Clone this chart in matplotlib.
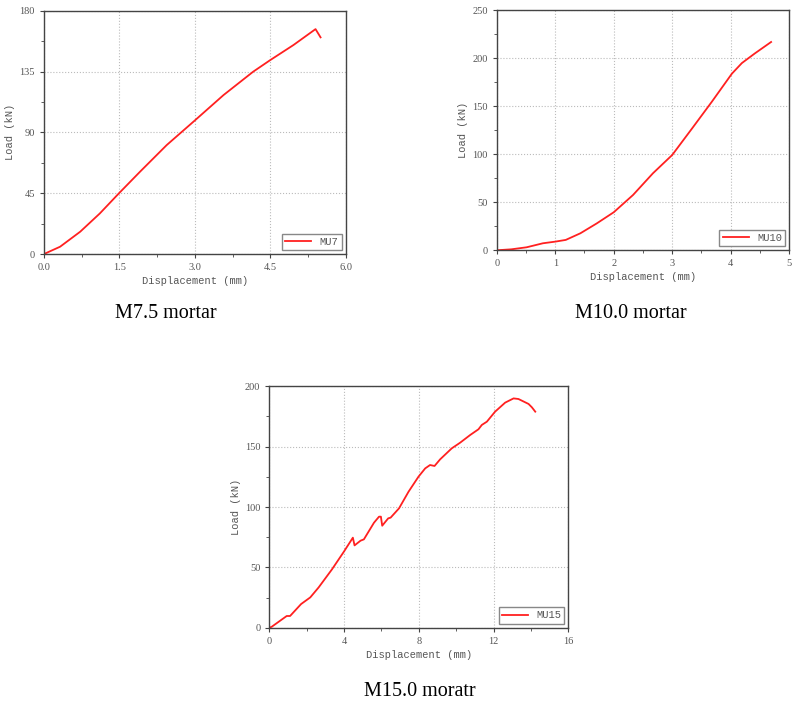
import numpy as np
import matplotlib
matplotlib.use('Agg')
from matplotlib import pyplot as plt
from matplotlib import ticker

# MU7 (M7.5 mortar)
mu7_disp = [0.0, 0.32, 0.72, 1.11, 1.49, 1.91, 2.44, 2.99, 3.57, 4.16, 4.5, 4.96, 5.4, 5.5]
mu7_load = [0.0, 5.4, 16.5, 30.0, 44.9, 60.9, 80.6, 98.5, 117.6, 134.9, 143.5, 154.6,
            166.4, 160.3]

# MU10 (M10.0 mortar)
mu10_disp = [0.0, 0.25, 0.51, 0.79, 1.0, 1.18, 1.43, 1.71, 2.0, 2.33, 2.67, 3.0, 3.34,
             3.68, 4.02, 4.19, 4.41, 4.69]
mu10_load = [0.0, 1.0, 3.1, 7.3, 9.0, 10.8, 17.7, 28.0, 39.6, 57.6, 80.2, 99.3, 127.0,
             155.0, 184.0, 195.0, 205.0, 217.0]

# MU15 (M15.0 mortar)
mu15_disp = [0.0, 0.13, 0.93, 1.11, 1.7, 2.19, 2.64, 3.35, 3.99, 4.47, 4.56, 4.88, 5.06,
             5.6, 5.87, 5.97, 6.04, 6.36, 6.49, 6.94, 7.45, 7.98, 8.34, 8.6, 8.84, 9.14,
             9.76, 10.21, 10.75, 11.19, 11.37, 11.64, 12.08, 12.62, 13.07, 13.33, 13.87,
             14.05, 14.23]
mu15_load = [0.0, 0.8, 9.7, 9.7, 19.6, 25.1, 33.4, 48.3, 63.0, 74.6, 68.2, 72.1, 73.2,
             87.0, 92.0, 92.0, 84.5, 90.6, 91.2, 98.9, 112.7, 125.1, 132.0, 134.8, 134.0,
             139.5, 148.6, 153.3, 159.7, 164.4, 168.0, 170.7, 179.0, 186.5, 190.0, 189.5,
             185.4, 182.6, 179.0]

text_grey = '#555555'
mono = 'Liberation Mono'
serif = 'Liberation Serif'

fig = plt.figure(figsize=(7.94, 7.06), dpi=100)


def panel(pos, x, y, label, xmax, xstep, ymax, ystep, xfmt):
    ax = fig.add_axes(pos)
    ax.plot(x, y, color='#ff2020', lw=1.3, label=label)
    ax.set_xlim(0, xmax)
    ax.set_ylim(0, ymax)
    ax.xaxis.set_major_locator(ticker.MultipleLocator(xstep))
    ax.xaxis.set_minor_locator(ticker.MultipleLocator(xstep / 2))
    ax.yaxis.set_major_locator(ticker.MultipleLocator(ystep))
    ax.yaxis.set_minor_locator(ticker.MultipleLocator(ystep / 2))
    ax.xaxis.set_major_formatter(ticker.FormatStrFormatter(xfmt))
    ax.grid(True, which='major', ls=':', color='#bbbbbb', lw=0.8)
    ax.set_axisbelow(True)
    for s in ax.spines.values():
        s.set_color('#444444')
        s.set_linewidth(1.0)
    ax.tick_params(which='both', direction='out', colors='#444444', labelcolor=text_grey,
                   labelsize=7.5)
    ax.tick_params(which='major', length=3)
    ax.tick_params(which='minor', length=2)
    for t in ax.get_xticklabels() + ax.get_yticklabels():
        t.set_fontfamily(serif)
    ax.set_xlabel('Displacement (mm)', family=mono, fontsize=7.5, color=text_grey, labelpad=3)
    ax.set_ylabel('Load (kN)', family=mono, fontsize=7.5, color=text_grey, labelpad=3)
    leg = ax.legend(loc='lower right', fancybox=False, edgecolor='#888888',
                    prop={'family': mono, 'size': 7.5}, handlelength=2.5,
                    borderaxespad=0.4, borderpad=0.3, framealpha=1)
    for t in leg.get_texts():
        t.set_color(text_grey)
    return ax


panel([0.0554, 0.6402, 0.380, 0.3446], mu7_disp, mu7_load, 'MU7', 6.0, 1.5, 180, 45, '%.1f')
panel([0.6256, 0.6455, 0.3684, 0.3399], mu10_disp, mu10_load, 'MU10', 5, 1, 250, 50, '%d')
panel([0.3392, 0.1109, 0.3766, 0.3419], mu15_disp, mu15_load, 'MU15', 16, 4, 200, 50, '%d')

fig.text(166 / 794, 1 - 313 / 706, 'M7.5 mortar', family=serif, fontsize=14.5,
         ha='center', va='center')
fig.text(631 / 794, 1 - 313 / 706, 'M10.0 mortar', family=serif, fontsize=14.5,
         ha='center', va='center')
fig.text(420 / 794, 1 - 692 / 706, 'M15.0 moratr', family=serif, fontsize=14.5,
         ha='center', va='center')

plt.savefig('out.png', dpi=100)
plt.close()
